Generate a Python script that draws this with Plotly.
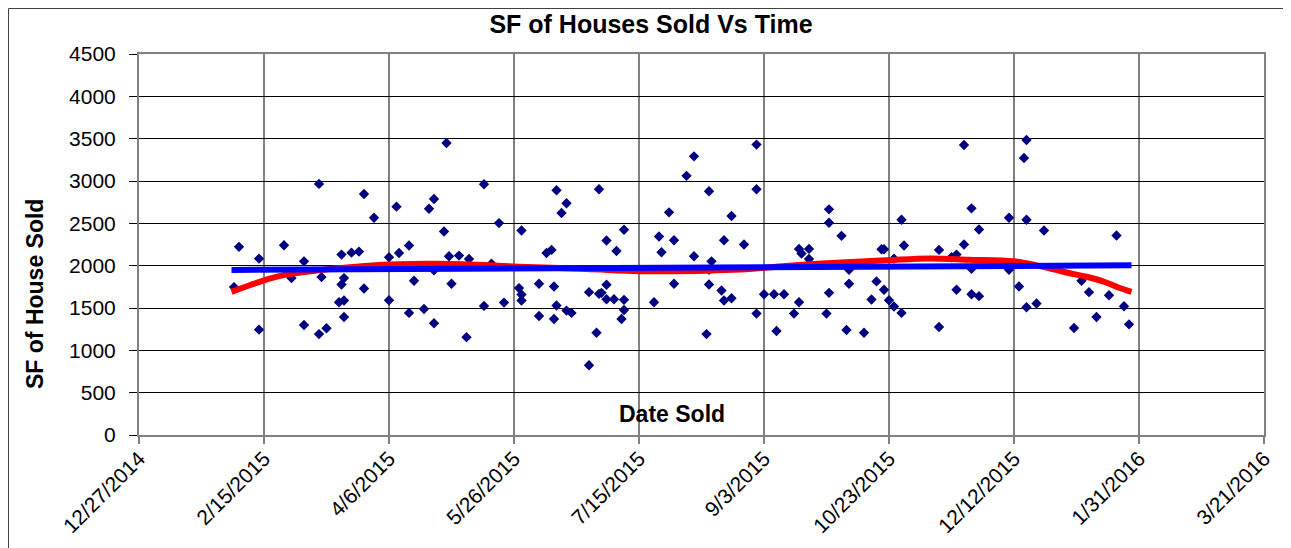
import plotly.graph_objects as go

# ---- data ----
sold_dates = [
    "2015-02-05", "2015-02-03", "2015-02-13", "2015-02-13", "2015-02-23", "2015-02-26",
    "2015-03-03", "2015-03-03", "2015-03-09", "2015-03-10", "2015-03-09", "2015-03-12",
    "2015-03-18", "2015-03-22", "2015-03-25", "2015-03-19", "2015-03-18", "2015-03-17",
    "2015-03-19", "2015-03-19", "2015-03-27", "2015-03-27", "2015-03-31",
    "2015-04-29", "2015-05-14", "2015-04-24", "2015-04-22", "2015-04-09", "2015-04-28",
    "2015-05-20", "2015-05-29", "2015-04-14", "2015-04-10", "2015-04-06", "2015-04-30",
    "2015-05-04", "2015-05-08", "2015-05-17", "2015-04-24", "2015-04-16", "2015-05-01",
    "2015-04-06", "2015-04-14", "2015-04-20", "2015-04-24", "2015-05-07", "2015-05-14",
    "2015-05-22", "2015-05-28", "2015-05-29", "2015-05-29",
    "2015-06-12", "2015-06-29", "2015-06-16", "2015-06-14", "2015-07-27", "2015-07-09",
    "2015-07-02", "2015-07-06", "2015-07-23", "2015-07-29", "2015-07-24", "2015-06-08",
    "2015-06-10", "2015-07-29", "2015-06-05", "2015-06-11", "2015-07-02", "2015-06-25",
    "2015-06-29", "2015-06-30", "2015-07-02", "2015-07-05", "2015-07-09", "2015-07-21",
    "2015-06-12", "2015-06-16", "2015-06-18", "2015-06-05", "2015-06-11", "2015-07-09",
    "2015-07-08", "2015-06-28", "2015-06-25",
    "2015-08-31", "2015-08-06", "2015-08-03", "2015-08-12", "2015-08-31", "2015-08-21",
    "2015-09-29", "2015-09-29", "2015-08-18", "2015-08-26", "2015-08-06", "2015-08-13",
    "2015-08-12", "2015-09-17", "2015-09-18", "2015-09-21", "2015-09-21", "2015-08-12",
    "2015-08-17", "2015-08-18", "2015-08-21", "2015-09-03", "2015-09-07", "2015-09-11",
    "2015-09-17", "2015-08-31", "2015-09-15", "2015-09-28", "2015-09-29", "2015-08-11",
    "2015-09-08",
    "2015-11-22", "2015-10-04", "2015-10-28", "2015-11-25", "2015-11-28", "2015-10-20",
    "2015-10-21", "2015-10-29", "2015-11-12", "2015-11-22", "2015-11-19", "2015-11-17",
    "2015-10-25", "2015-10-07", "2015-11-25", "2015-10-07", "2015-10-18", "2015-10-21",
    "2015-10-16", "2015-10-23", "2015-10-25", "2015-10-28", "2015-11-19", "2015-11-25",
    "2015-11-28", "2015-10-06", "2015-10-13", "2015-11-12",
    "2015-12-17", "2015-12-16", "2015-12-10", "2015-12-17", "2015-12-24", "2016-01-22",
    "2015-12-10", "2015-12-14", "2015-12-17", "2015-12-21", "2016-01-08", "2016-01-11",
    "2016-01-19", "2016-01-25", "2016-01-14", "2016-01-05", "2016-01-27",
]
sf_sold = [
    2222, 1747, 2083, 1244, 2242, 1853,
    2051, 1299, 2966, 1865, 1192, 1260,
    2131, 2154, 2166, 1853, 1778, 1568,
    1588, 1394, 2847, 1731, 2566,
    3449, 2962, 2788, 2673, 2697, 2404,
    2503, 2416, 2238, 2150, 2099, 2111,
    2119, 2079, 2024, 1945, 1822, 1786,
    1592, 1442, 1489, 1319, 1156, 1525,
    1564, 1735, 1659, 1588,
    2891, 2903, 2737, 2622, 2630, 2424,
    2297, 2174, 2345, 2301, 2158, 2150,
    2186, 1786, 1786, 1754, 1774, 1687,
    1667, 1679, 1604, 1604, 1596, 1568,
    1529, 1469, 1442, 1406, 1370, 1477,
    1370, 1208, 824,
    3430, 3291, 3061, 2879, 2903, 2586,
    2665, 2507, 2301, 2250, 2111, 2051,
    1952, 2198, 2143, 2198, 2079, 1778,
    1707, 1588, 1616, 1663, 1663, 1663,
    1568, 1434, 1434, 1434, 1679, 1192,
    1228,
    3426, 2352, 2543, 2677, 2428, 2194,
    2194, 2238, 2186, 2250, 2131, 2099,
    2083, 1952, 1964, 1786, 1814, 1715,
    1600, 1592, 1517, 1442, 1715, 1663,
    1640, 1240, 1208, 1275,
    3485, 3271, 2566, 2543, 2416, 2356,
    1952, 1754, 1509, 1553, 1822, 1687,
    1651, 1521, 1394, 1263, 1307,
]

# polynomial trend (red)
poly_dates = [
    "2015-02-02", "2015-02-09", "2015-02-21", "2015-03-09", "2015-04-02", "2015-04-21",
    "2015-05-06", "2015-05-28", "2015-06-24", "2015-07-15", "2015-07-30", "2015-08-28",
    "2015-09-13", "2015-09-26", "2015-10-22", "2015-11-08", "2015-11-24", "2015-12-12",
    "2015-12-21", "2015-12-28", "2016-01-03", "2016-01-10", "2016-01-17", "2016-01-23",
    "2016-01-28",
]
poly_vals = [
    1690, 1766, 1877, 1945, 2008, 2022,
    2018, 1988, 1960, 1935, 1935, 1962,
    2000, 2025, 2063, 2085, 2071, 2051,
    2004, 1956, 1913, 1869, 1810, 1739,
    1691,
]

# linear trend (blue)
lin_dates = ["2015-02-02", "2016-01-28"]
lin_vals = [1949, 2004]

tick_vals = ["2014-12-27", "2015-02-15", "2015-04-06", "2015-05-26", "2015-07-15",
             "2015-09-03", "2015-10-23", "2015-12-12", "2016-01-31", "2016-03-21"]
tick_text = ["12/27/2014", "2/15/2015", "4/6/2015", "5/26/2015", "7/15/2015",
             "9/3/2015", "10/23/2015", "12/12/2015", "1/31/2016", "3/21/2016"]
y_ticks = list(range(0, 4501, 500))

FONT = "Liberation Sans, Arial, sans-serif"

# page body adds an 8px offset; figure sized to fit the 1291x548 window
W, H = 1283, 540
PL, PR, PT, PB = 131, 1256, 46, 427  # plot area in figure pixels

fig = go.Figure()
fig.add_trace(go.Scatter(
    x=sold_dates, y=sf_sold, mode="markers",
    marker=dict(symbol="diamond", size=8, color="#000080", line=dict(width=0)),
    showlegend=False, cliponaxis=False,
))
fig.add_trace(go.Scatter(
    x=poly_dates, y=poly_vals, mode="lines",
    line=dict(color="#ff0000", width=6, shape="spline", smoothing=1.0),
    showlegend=False,
))
fig.add_trace(go.Scatter(
    x=lin_dates, y=lin_vals, mode="lines",
    line=dict(color="#0000ff", width=6),
    showlegend=False,
))

pw, ph = PR - PL, PB - PT

fig.update_layout(
    width=W, height=H,
    margin=dict(l=PL, r=W - PR, t=PT, b=H - PB, autoexpand=False),
    paper_bgcolor="white", plot_bgcolor="white",
    font=dict(family=FONT, color="black"),
    title=dict(text="<b>SF of Houses Sold Vs Time</b>", x=643 / W, xanchor="center",
               y=1 - 16 / H, yanchor="middle", font=dict(size=25, family=FONT, color="black")),
    xaxis=dict(
        type="date", range=["2014-12-27", "2016-03-21"], automargin=False,
        tickmode="array", tickvals=tick_vals, ticktext=tick_text, tickangle=-45,
        tickfont=dict(size=21, family=FONT, color="black"),
        showgrid=True, gridcolor="#808080", gridwidth=2,
        showline=True, linecolor="#808080", linewidth=2, mirror=True,
        ticks="outside", ticklen=7, tickcolor="#808080", tickwidth=2,
        ticklabelstandoff=-6,
        zeroline=False,
    ),
    yaxis=dict(
        range=[0, 4500], tickmode="array", tickvals=y_ticks, automargin=False,
        tickfont=dict(size=21, family=FONT, color="black"),
        showgrid=True, gridcolor="black", gridwidth=1,
        showline=True, linecolor="#808080", linewidth=2, mirror=True,
        ticks="outside", ticklen=8, tickcolor="black", tickwidth=1,
        ticklabelstandoff=9,
        zeroline=False,
    ),
    annotations=[
        dict(text="<b>Date Sold</b>", xref="paper", yref="paper",
             x=(664 - PL) / pw, y=(PB - 406) / ph, xanchor="center", yanchor="middle",
             showarrow=False, font=dict(size=23, family=FONT, color="black")),
        dict(text="<b>SF of House Sold</b>", xref="paper", yref="paper",
             x=(27 - PL) / pw, y=(PB - 286) / ph, xanchor="center", yanchor="middle",
             textangle=-90, showarrow=False, font=dict(size=23, family=FONT, color="black")),
    ],
    shapes=[
        dict(type="rect", xref="paper", yref="paper",
             x0=(0.5 - PL) / pw, x1=(W + 10 - PL) / pw,
             y0=(PB - H - 10) / ph, y1=(PB - 0.5) / ph,
             line=dict(color="#404040", width=1), layer="below"),
    ],
)

fig.write_html("out.html")
